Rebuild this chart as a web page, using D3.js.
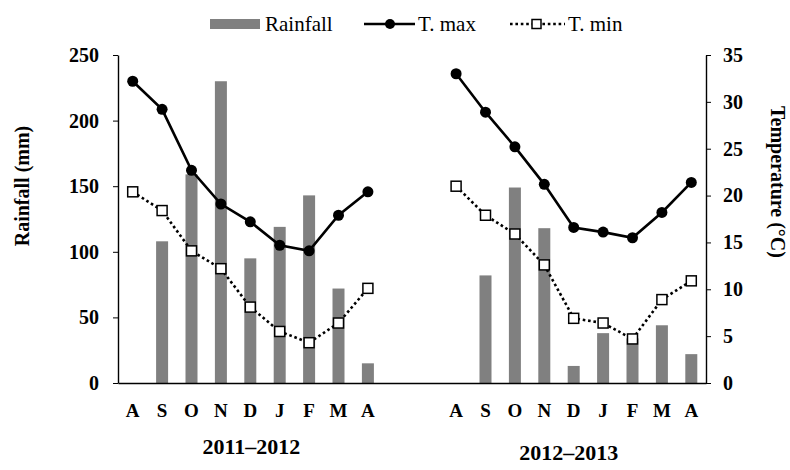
<!DOCTYPE html>
<html>
<head>
<meta charset="utf-8">
<script src="https://cdn.jsdelivr.net/npm/d3@7"></script>
<style>
  html, body { margin: 0; padding: 0; background: #fff; }
  svg { display: block; }
  svg text { font-family: "Liberation Serif", "Times New Roman", serif !important; fill: #000; }
</style>
</head>
<body>
<svg id="chart" width="790" height="470"></svg>
<script>
// ---- data ----
const months = ["A","S","O","N","D","J","F","M","A"];
const seasons = ["2011\u20132012","2012\u20132013"];
const rain1 = [0,108,159,230,95,119,143,72,15];
const rain2 = [0,82,149,118,13,38,34,44,22];
const tmax1 = [32.2,29.2,22.7,19.1,17.2,14.7,14.1,17.9,20.4];
const tmin1 = [20.4,18.4,14.1,12.2,8.1,5.5,4.3,6.4,10.1];
const tmax2 = [33.0,28.9,25.2,21.2,16.6,16.1,15.5,18.2,21.4];
const tmin2 = [21.0,17.9,15.9,12.6,6.9,6.4,4.7,8.9,10.9];
const rainTicks = [0,50,100,150,200,250];
const tempTicks = [0,5,10,15,20,25,30,35];
const legendLabels = ["Rainfall","T. max","T. min"];

const FONT = "'Liberation Serif', 'Times New Roman', serif";

// ---- keyed categories (two seasons separated by two empty slots) ----
const keys = [];
months.forEach((m,i)=>keys.push("a"+i));
keys.push("gap0","gap1");
months.forEach((m,i)=>keys.push("b"+i));
const labelOf = k => k.startsWith("gap") ? "" : months[+k.slice(1)];

const seasonData = [
  {pre:"a", rain:rain1, tmax:tmax1, tmin:tmin1, label:seasons[0]},
  {pre:"b", rain:rain2, tmax:tmax2, tmin:tmin2, label:seasons[1]}
];

const svg = d3.select("#chart");
const L = 118, R = 706, T = 55, B = 383;

const x = d3.scaleBand().domain(keys).range([L, R]).padding(0);
const yRain = d3.scaleLinear().domain([0,250]).range([B, T]);
const yTemp = d3.scaleLinear().domain([0,35]).range([B, T]);
const cx = k => x(k) + x.bandwidth()/2;
const barW = 12;

// bars
seasonData.forEach(s=>{
  svg.append("g").selectAll("rect")
    .data(s.rain.map((v,i)=>({k:s.pre+i, v})).filter(d=>d.v>0))
    .join("rect")
    .attr("x", d=>cx(d.k)-barW/2)
    .attr("width", barW)
    .attr("y", d=>yRain(d.v))
    .attr("height", d=>yRain(0)-yRain(d.v))
    .attr("fill", "#808080");
});

// lines and markers
const lineGen = d3.line().x(d=>cx(d.k)).y(d=>yTemp(d.v));
seasonData.forEach(s=>{
  const tmin = s.tmin.map((v,i)=>({k:s.pre+i, v}));
  const tmax = s.tmax.map((v,i)=>({k:s.pre+i, v}));
  svg.append("path").datum(tmin).attr("d", lineGen)
    .attr("fill","none").attr("stroke","#000").attr("stroke-width",2.6)
    .attr("stroke-dasharray","2.6,2.8");
  svg.append("path").datum(tmax).attr("d", lineGen)
    .attr("fill","none").attr("stroke","#000").attr("stroke-width",2.6);
  svg.append("g").selectAll("rect").data(tmin).join("rect")
    .attr("x", d=>cx(d.k)-5).attr("y", d=>yTemp(d.v)-5)
    .attr("width",10).attr("height",10)
    .attr("fill","#fff").attr("stroke","#000").attr("stroke-width",1.5);
  svg.append("g").selectAll("circle").data(tmax).join("circle")
    .attr("cx", d=>cx(d.k)).attr("cy", d=>yTemp(d.v)).attr("r",5.5)
    .attr("fill","#000");
});

// axes
const axL = svg.append("g").attr("transform",`translate(${L},0)`)
  .call(d3.axisLeft(yRain).tickValues(rainTicks).tickSize(5).tickSizeOuter(0).tickPadding(14));
const axR = svg.append("g").attr("transform",`translate(${R},0)`)
  .call(d3.axisRight(yTemp).tickValues(tempTicks).tickSize(5).tickSizeOuter(0).tickPadding(12));
const axB = svg.append("g").attr("transform",`translate(0,${B})`)
  .call(d3.axisBottom(x).tickFormat(labelOf).tickSize(0).tickSizeOuter(0).tickPadding(21));
[axL, axR, axB].forEach(a=>{
  a.attr("font-family", FONT);
  a.selectAll("text").attr("font-weight","bold").attr("font-family", FONT).attr("fill","#000");
  a.selectAll("line").attr("stroke","#000");
  a.select(".domain").attr("stroke","#000").attr("stroke-width",1.4);
});
axL.selectAll("text").attr("font-size",20);
axR.selectAll("text").attr("font-size",20);
axB.selectAll("text").attr("font-size",19);

// season labels
seasonData.forEach((s,j)=>{
  const c0 = cx(s.pre+"0"), c1 = cx(s.pre+(months.length-1));
  svg.append("text").attr("x", (c0+c1)/2 + (j===0?1:-5)).attr("y", j===0?454:460)
    .attr("text-anchor","middle").attr("font-size",22).attr("font-weight","bold")
    .attr("font-family", FONT)
    .text(s.label);
});

// axis titles
svg.append("text").attr("transform","translate(29,186) rotate(-90)")
  .attr("text-anchor","middle").attr("font-size",20).attr("font-weight","bold")
  .attr("font-family", FONT)
  .text("Rainfall (mm)");
svg.append("text").attr("transform","translate(771,182) rotate(90)")
  .attr("text-anchor","middle").attr("font-size",20).attr("font-weight","bold")
  .attr("font-family", FONT)
  .text("Temperature (\u00B0C)");

// legend
const lg = svg.append("g").attr("font-family", FONT);
lg.append("rect").attr("x",210).attr("y",19).attr("width",50).attr("height",10).attr("fill","#808080");
lg.append("text").attr("x",265).attr("y",31).attr("font-size",21).attr("font-family", FONT).text(legendLabels[0]);
lg.append("line").attr("x1",364).attr("x2",415).attr("y1",24).attr("y2",24)
  .attr("stroke","#000").attr("stroke-width",2.6);
lg.append("circle").attr("cx",390).attr("cy",24).attr("r",5).attr("fill","#000");
lg.append("text").attr("x",418).attr("y",31).attr("font-size",21).attr("font-family", FONT).text(legendLabels[1]);
lg.append("line").attr("x1",510).attr("x2",565).attr("y1",24).attr("y2",24)
  .attr("stroke","#000").attr("stroke-width",2.6).attr("stroke-dasharray","2.6,2.8");
lg.append("rect").attr("x",532).attr("y",19.5).attr("width",9).attr("height",9)
  .attr("fill","#fff").attr("stroke","#000").attr("stroke-width",1.5);
lg.append("text").attr("x",568).attr("y",31).attr("font-size",21).attr("font-family", FONT).text(legendLabels[2]);
</script>
</body>
</html>
